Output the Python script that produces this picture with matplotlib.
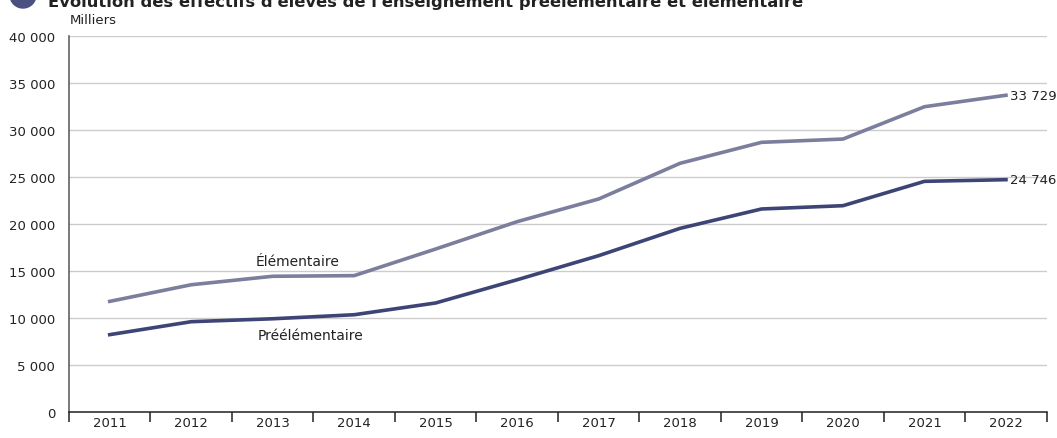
import numpy as np
import matplotlib
matplotlib.use('Agg')
import matplotlib.pyplot as plt
from matplotlib.patches import Circle
from matplotlib.transforms import IdentityTransform

# Data (thousands of pupils)
years = ['2011', '2012', '2013', '2014', '2015', '2016', '2017', '2018', '2019', '2020', '2021', '2022']
elementaire = [11800, 13570, 14470, 14540, 17370, 20280, 22690, 26490, 28720, 29070, 32510, 33729]
preelementaire = [8260, 9640, 9950, 10380, 11630, 14100, 16660, 19570, 21630, 21980, 24570, 24746]
yticks = [0, 5000, 10000, 15000, 20000, 25000, 30000, 35000, 40000]

col_elem = '#7b7e9c'
col_pre = '#3d4577'

fig = plt.figure(figsize=(10.57, 4.39), dpi=100)
ax = fig.add_axes([69 / 1057, (439 - 413.3) / 439, (1046.7 - 69) / 1057, (413.3 - 37.3) / 439])

x = np.arange(len(years))
ax.plot(x, elementaire, color=col_elem, linewidth=2.6, solid_joinstyle='round', zorder=3)
ax.plot(x, preelementaire, color=col_pre, linewidth=2.6, solid_joinstyle='round', zorder=3)

ax.set_xlim(-0.5, len(years) - 0.5)
ax.set_ylim(0, 40000)

# y axis
ax.set_yticks(yticks)
ax.set_yticklabels([f'{v:,}'.replace(',', ' ') for v in yticks])
ax.tick_params(axis='y', length=0, pad=10, labelsize=9.5, labelcolor='#222222')
ax.grid(axis='y', color='#cccccc', linewidth=1.0, zorder=0)

# x axis: ticks between categories, labels at centres
ax.set_xticks(np.arange(-0.5, len(years)), minor=False)
ax.set_xticklabels([])
ax.set_xticks(x, minor=True)
ax.set_xticklabels(years, minor=True)
ax.tick_params(axis='x', which='major', direction='out', length=7, width=1.1, color='#222222')
ax.tick_params(axis='x', which='minor', length=0, pad=3, labelsize=9.5, labelcolor='#222222')

for s in ['top', 'right']:
    ax.spines[s].set_visible(False)
ax.spines['left'].set_color('#555555')
ax.spines['left'].set_linewidth(1.1)
ax.spines['bottom'].set_color('#222222')
ax.spines['bottom'].set_linewidth(1.1)

# series labels
ax.text(2.31, 16100, 'Élémentaire', ha='center', va='center', fontsize=10, color='#222222')
ax.text(2.46, 8200, 'Préélémentaire', ha='center', va='center', fontsize=10, color='#222222')
ax.annotate(f'{elementaire[-1]:,}'.replace(',', ' '), (x[-1], elementaire[-1]), xytext=(3, 0),
            textcoords='offset points', ha='left', va='center', fontsize=9.5, color='#222222',
            annotation_clip=False)
ax.annotate(f'{preelementaire[-1]:,}'.replace(',', ' '), (x[-1], preelementaire[-1]), xytext=(3, 0),
            textcoords='offset points', ha='left', va='center', fontsize=9.5, color='#222222',
            annotation_clip=False)

# unit and (cropped) title
fig.text(70 / 1057, 1 - 20 / 439, 'Milliers', ha='left', va='center', fontsize=9.5, color='#222222')
fig.text(48 / 1057, 1 - 1 / 439, "Évolution des effectifs d'élèves de l'enseignement préélémentaire et élémentaire",
         ha='left', va='center', fontsize=11.8, fontweight='bold', color='#222222')
fig.patches.append(Circle((23, 439 + 4), 13, transform=IdentityTransform(),
                          color='#4a5080', clip_on=False))

fig.savefig('out.png', dpi=100)
